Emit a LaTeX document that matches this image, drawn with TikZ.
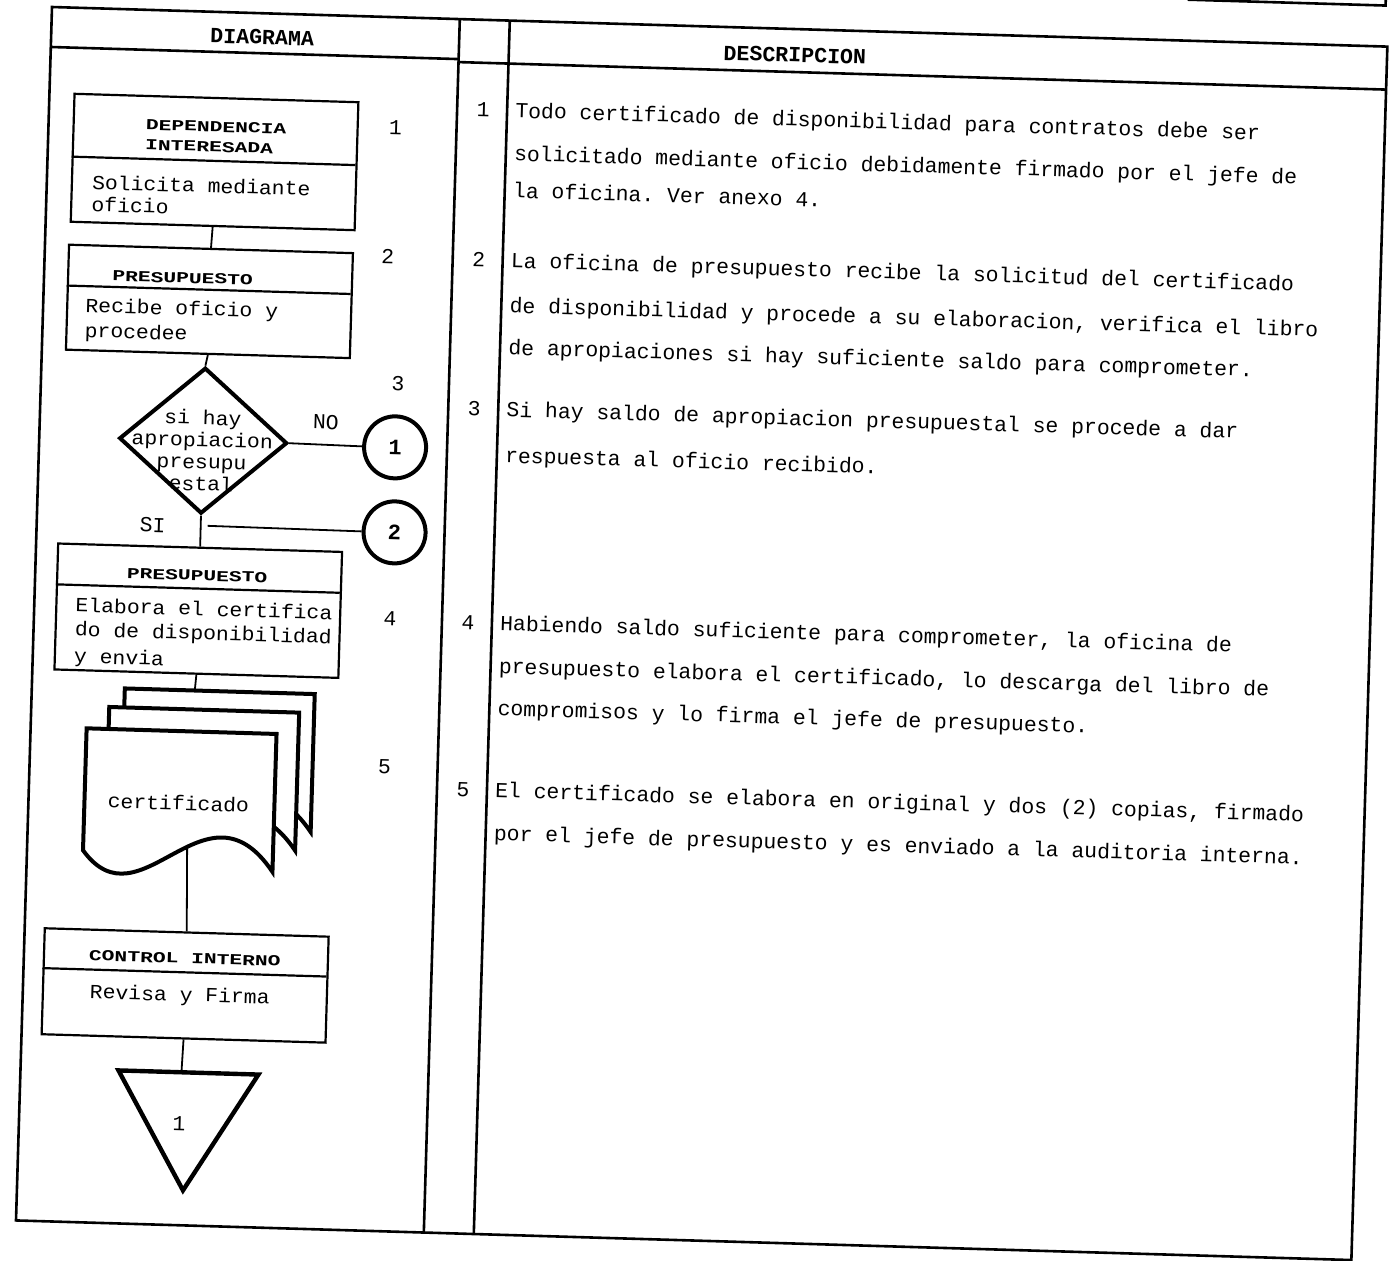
\documentclass[tikz,border=0pt]{standalone}
\usepackage{fontspec}
\usetikzlibrary{shapes.geometric}
\newfontfamily\descfont{Liberation Mono}
\newfontfamily\tallfont{Liberation Mono}[FakeStretch=1.07]
\newfontfamily\capfont{Liberation Mono}[FakeStretch=1.4]
\begin{document}
\frenchspacing
\begin{tikzpicture}[x=0.5pt, y=-0.5pt,
  frameline/.style={line width=1.3pt},
  boxline/.style={line width=1.1pt},
  procbox/.style={draw, line width=1.1pt, inner sep=0pt, anchor=north west},
  conn/.style={line width=0.9pt},
  thickline/.style={line width=2pt},
  desctext/.style={font=\descfont\fontsize{10.7}{12}\selectfont, inner sep=0pt, anchor=base west},
  numtext/.style={font=\descfont\fontsize{10.7}{12}\selectfont, inner sep=0pt, anchor=base},
  talltext/.style={font=\tallfont\fontsize{10}{12}\selectfont, inner sep=0pt, anchor=base west},
  captext/.style={font=\capfont\bfseries\fontsize{7.6}{9}\selectfont, inner sep=0pt, anchor=base west},
  headtext/.style={font=\descfont\bfseries\fontsize{10.8}{12}\selectfont, inner sep=0pt},
  docsheet/.pic={\draw[thickline, fill=white] (0,0) -- (190,0) -- (190,138) .. controls (120,40) and (60,200) .. (0,122) -- cycle;}
]
\useasboundingbox (0,0) rectangle (1395,1260);
\begin{scope}[shift={(52,7)}, rotate=-1.7, transform shape]
% ---------- table frame ----------
\draw[frameline] (0,0) rectangle (1336,1214);
\draw[frameline] (1135,-41) -- (1333,-41) -- (1333,-80);
\draw[frameline] (0,40) -- (408,40);
\draw[frameline] (408,43) -- (1336,43);
\draw[frameline] (408,0) -- (408,1214);
\draw[frameline] (458,0) -- (458,1214);
\node[headtext] (hdiag) at (211,24) {DIAGRAMA};
\node[headtext] (hdesc) at (744,26) {DESCRIPCION};

% ---------- boxes ----------
\node[procbox, minimum width=142pt, minimum height=64pt] (b1) at (24,85) {};
\draw[boxline] (24,149) -- (308,149);
\node[captext] (b1h1) at (97,120) {DEPENDENCIA};
\node[captext] (b1h2) at (97,140) {INTERESADA};
\node[talltext] (b1t1) at (45,181) {Solicita mediante};
\node[talltext] (b1t2) at (45,203) {oficio};

\node[procbox, minimum width=142pt, minimum height=52.5pt] (b2) at (23,236) {};
\draw[boxline] (23,278) -- (307,278);
\node[captext] (b2h) at (68,272) {PRESUPUESTO};
\node[talltext] (b2t1) at (42,304) {Recibe oficio y};
\node[talltext] (b2t2) at (42,329) {procedee};

\node[draw, diamond, thickline, minimum width=84pt, minimum height=73pt, inner sep=0pt] (dia) at (164,429) {};
\node[talltext, anchor=base] (dq1) at (163,413) {si hay};
\node[talltext, anchor=base] (dq2) at (163,435) {apropiacion};
\node[talltext, anchor=base] (dq3) at (163,457) {presupu};
\node[talltext, anchor=base] (dq4) at (163,479) {estal};

\node[draw, circle, thickline, minimum size=31pt, inner sep=0pt, font=\descfont\bfseries\fontsize{11}{12}\selectfont] (c1) at (356,430) {1};
\node[draw, circle, thickline, minimum size=31pt, inner sep=0pt, font=\descfont\bfseries\fontsize{11}{12}\selectfont] (c2) at (358,515) {2};
\node[numtext] (lno) at (286,414) {NO};
\node[numtext] (lsi) at (116,522) {SI};

\node[procbox, minimum width=142pt, minimum height=63pt] (b3) at (21,535) {};
\draw[boxline] (21,577) -- (305,577);
\node[captext, anchor=base] (b3h) at (162,569) {PRESUPUESTO};
\node[talltext] (b3t1) at (41,604) {Elabora el certifica};
\node[talltext] (b3t2) at (41,628) {do de disponibilidad};
\node[talltext] (b3t3) at (41,655) {y envia};

\node[procbox, minimum width=142pt, minimum height=53pt] (b4) at (19,920) {};
\draw[boxline] (19,961) -- (303,961);
\node[captext, anchor=base] (b4h) at (161,952) {CONTROL INTERNO};
\node[talltext, anchor=base] (b4t) at (157,990) {Revisa y Firma};

% ---------- connectors ----------
\coordinate (doctop) at (163,679);
\coordinate (docbot) at (160,836);
\coordinate (sistart) at (171,514);
\coordinate (tritop) at (161,1061);
\draw[conn] (b1.south) -- (b2.north);
\draw[conn] (b2.south) -- (dia.north);
\draw[conn] (dia.south) -- (b3.north);
\draw[conn] (dia.east) -- (c1.west);
\draw[conn] (sistart) -- (c2.west);
\draw[conn] (b3.south) -- (doctop);

% ---------- document stack ----------
\pic at (93,679) {docsheet};
\pic at (78,698) {docsheet};
\pic at (56,720) {docsheet};
\node[talltext, anchor=base] (doclabel) at (150,799) {certificado};
\draw[conn] (docbot) -- (b4.north);

% ---------- off-page triangle ----------
\draw[conn] (b4.south) -- (tritop);
\draw[line width=2.2pt, line join=miter] (98,1061) -- (238,1061) -- (166,1179) -- cycle;
\node[numtext] (tri1) at (160,1119) {1};

% ---------- row numbers ----------
\node[numtext] (r1) at (347,117) {1};
\node[numtext] (r2) at (343,247) {2};
\node[numtext] (r3) at (357,373) {3};
\node[numtext] (r4) at (356,608) {4};
\node[numtext] (r5) at (355,757) {5};
\node[numtext] (n1) at (434,97) {1};
\node[numtext] (n2) at (434,247) {2};
\node[numtext] (n3) at (434,396) {3};
\node[numtext] (n4) at (434,610) {4};
\node[numtext] (n5) at (434,777) {5};

% ---------- description ----------
\node[desctext] (p1a) at (466,97) {Todo certificado de disponibilidad para contratos debe ser};
\node[desctext] (p1b) at (466,140) {solicitado mediante};
\node[desctext] (p1bb) at (722.8,140) {oficio};
\node[desctext] (p1bc) at (812.7,140) {debidamente firmado por el jefe de};
\node[desctext] (p1c) at (466,177) {la oficina. Ver anexo 4.};
\node[desctext] (p2a) at (466,247) {La oficina de presupuesto recibe la solicitud del certificado};
\node[desctext] (p2b) at (466,292) {de disponibilidad y procede a su elaboracion, verifica el libro};
\node[desctext] (p2c) at (466,334) {de apropiaciones si hay suficiente saldo para comprometer.};
\node[desctext] (p3a) at (466,396) {Si hay saldo de apropiacion presupuestal se procede a dar};
\node[desctext] (p3b) at (466,442) {respuesta al oficio recibido.};
\node[desctext] (p4a) at (466,610) {Habiendo saldo suficiente para comprometer, la oficina de};
\node[desctext] (p4b) at (466,653) {presupuesto elabora el certificado, lo descarga del libro de};
\node[desctext] (p4c) at (466,695) {compromisos y lo firma el jefe de presupuesto.};
\node[desctext] (p5a) at (466,777) {El certificado se elabora en original y dos (2) copias, firmado};
\node[desctext] (p5b) at (466,820) {por el jefe de presupuesto y es enviado a la auditoria interna.};
\end{scope}
\end{tikzpicture}
\end{document}
